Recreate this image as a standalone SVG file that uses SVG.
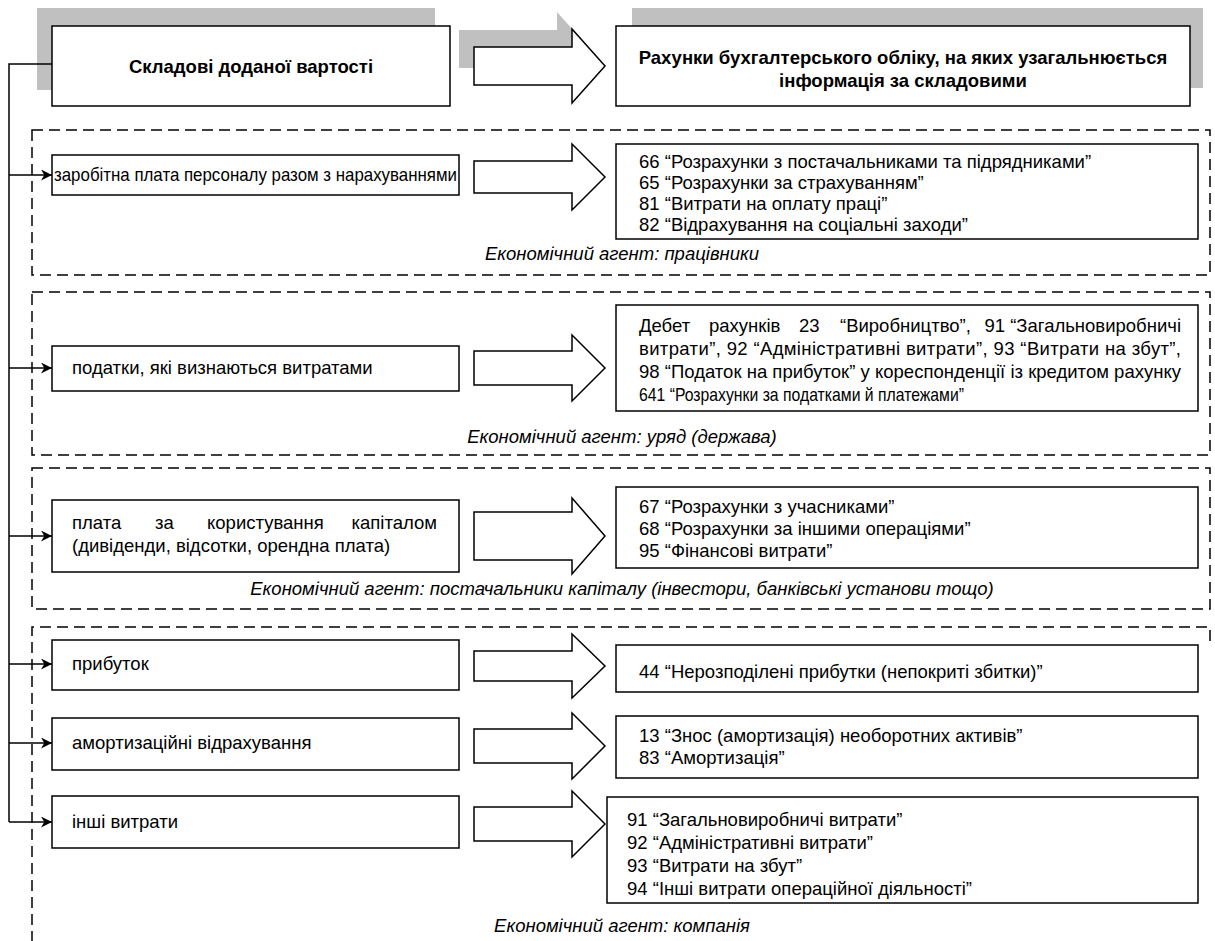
<svg xmlns="http://www.w3.org/2000/svg" width="1215" height="941" viewBox="0 0 1215 941">
<defs>
<style>
.box{fill:#fff;stroke:#000;stroke-width:1.5}
.shadow{fill:#c0c0c0;stroke:none}
.dash{fill:none;stroke:#000;stroke-width:1.5;stroke-dasharray:11,6}
.barrow{fill:#fff;stroke:#000;stroke-width:1.5;stroke-linejoin:miter}
.conn{fill:none;stroke:#000;stroke-width:1.5}
.t{font-family:"Liberation Sans",Arial,sans-serif;font-size:18.5px;fill:#000}
.b{font-family:"Liberation Sans",Arial,sans-serif;font-size:18.5px;font-weight:bold;fill:#000}
.i{font-family:"Liberation Sans",Arial,sans-serif;font-size:18.5px;font-style:italic;fill:#000}
</style>
<marker id="ah" viewBox="0 0 10 10" refX="10" refY="5" markerWidth="11" markerHeight="11" markerUnits="userSpaceOnUse" orient="auto">
<path d="M0,0 L10,5 L0,10 L3,5 Z" fill="#000"/>
</marker>
</defs>
<rect width="1215" height="941" fill="#fff"/>

<g id="groups">
<rect class="dash" x="32" y="130" width="1178" height="145"/>
<rect class="dash" x="32" y="292" width="1178" height="163"/>
<rect class="dash" x="32" y="468" width="1178" height="141"/>
<path class="dash" d="M1210,641 V627 H32 V941"/>
</g>

<g id="header-left">
<rect class="shadow" x="37" y="8" width="398" height="82"/>
<rect class="box" x="52" y="26" width="398" height="80"/>
<text class="b" x="251" y="73" text-anchor="middle">Складові доданої вартості</text>
</g>

<g id="header-arrow">
<path class="shadow" d="M459,30 H557 V12 L590,49 L557,86 V68 H459 Z"/>
<path class="barrow" d="M474,47 H572 V29 L605,66 L572,103 V85 H474 Z"/>
</g>

<g id="header-right">
<rect class="shadow" x="632" y="8" width="571" height="80"/>
<rect class="box" x="616" y="26" width="574" height="80"/>
<text class="b" x="903" y="64" text-anchor="middle">Рахунки бухгалтерського обліку, на яких узагальнюється</text>
<text class="b" x="903" y="87" text-anchor="middle">інформація за складовими</text>
</g>

<g id="connectors">
<path class="conn" d="M52,64 H9 V822"/>
<path class="conn" d="M9,175 H52" marker-end="url(#ah)"/>
<path class="conn" d="M9,368 H52" marker-end="url(#ah)"/>
<path class="conn" d="M9,536 H52" marker-end="url(#ah)"/>
<path class="conn" d="M9,664 H52" marker-end="url(#ah)"/>
<path class="conn" d="M9,743 H52" marker-end="url(#ah)"/>
<path class="conn" d="M9,822 H52" marker-end="url(#ah)"/>
</g>

<g id="row1">
<rect class="box" x="52" y="155" width="407" height="40"/>
<text class="t" x="54" y="181" textLength="403" lengthAdjust="spacingAndGlyphs">заробітна плата персоналу разом з нарахуваннями</text>
<path class="barrow" d="M474,161 H572 V144 L605,177 L572,210 V193 H474 Z"/>
<rect class="box" x="616" y="144" width="582" height="95"/>
<text class="t" x="639" y="168">66 “Розрахунки з постачальниками та підрядниками”</text>
<text class="t" x="639" y="189">65 “Розрахунки за страхуванням”</text>
<text class="t" x="639" y="210">81 “Витрати на оплату праці”</text>
<text class="t" x="639" y="231">82 “Відрахування на соціальні заходи”</text>
<text class="i" x="622" y="260" text-anchor="middle">Економічний агент: працівники</text>
</g>

<g id="row2">
<rect class="box" x="52" y="346" width="407" height="45"/>
<text class="t" x="72" y="374">податки, які визнаються витратами</text>
<path class="barrow" d="M474,351 H572 V335 L605,368 L572,401 V385 H474 Z"/>
<rect class="box" x="616" y="305" width="582" height="106"/>
<text class="t" y="332"><tspan x="639">Дебет</tspan><tspan x="709">рахунків</tspan><tspan x="799">23</tspan><tspan x="840">“Виробництво”,</tspan><tspan x="1181" text-anchor="end">91 “Загальновиробничі</tspan></text>
<text class="t" x="639" y="355" textLength="542" lengthAdjust="spacing">витрати”, 92 “Адміністративні витрати”, 93 “Витрати на збут”,</text>
<text class="t" x="639" y="378" textLength="542" lengthAdjust="spacing">98 “Податок на прибуток” у кореспонденції із кредитом рахунку</text>
<text class="t" x="639" y="401" textLength="325" lengthAdjust="spacingAndGlyphs">641 “Розрахунки за податками й платежами”</text>
<text class="i" x="622" y="443" text-anchor="middle">Економічний агент: уряд (держава)</text>
</g>

<g id="row3">
<rect class="box" x="52" y="500" width="407" height="72"/>
<text class="t" y="529"><tspan x="72">плата</tspan><tspan x="155">за</tspan><tspan x="207">користування</tspan><tspan x="437" text-anchor="end">капіталом</tspan></text>
<text class="t" x="72" y="552">(дивіденди, відсотки, орендна плата)</text>
<path class="barrow" d="M474,512 H572 V498 L605,536 L572,574 V560 H474 Z"/>
<rect class="box" x="616" y="487" width="582" height="81"/>
<text class="t" x="639" y="513">67 “Розрахунки з учасниками”</text>
<text class="t" x="639" y="535">68 “Розрахунки за іншими операціями”</text>
<text class="t" x="639" y="557">95 “Фінансові витрати”</text>
<text class="i" x="622" y="595" text-anchor="middle">Економічний агент: постачальники капіталу (інвестори, банківські установи тощо)</text>
</g>

<g id="row4">
<rect class="box" x="52" y="640" width="407" height="50"/>
<text class="t" x="72" y="670">прибуток</text>
<path class="barrow" d="M474,651 H572 V634 L605,666 L572,698 V681 H474 Z"/>
<rect class="box" x="616" y="645" width="582" height="47"/>
<text class="t" x="639" y="678">44 “Нерозподілені прибутки (непокриті збитки)”</text>
</g>

<g id="row5">
<rect class="box" x="52" y="718" width="407" height="52"/>
<text class="t" x="72" y="749">амортизаційні відрахування</text>
<path class="barrow" d="M474,729 H572 V713 L605,746 L572,779 V763 H474 Z"/>
<rect class="box" x="616" y="716" width="582" height="62"/>
<text class="t" x="639" y="742">13 “Знос (амортизація) необоротних активів”</text>
<text class="t" x="639" y="764">83 “Амортизація”</text>
</g>

<g id="row6">
<rect class="box" x="52" y="796" width="407" height="52"/>
<text class="t" x="72" y="828">інші витрати</text>
<path class="barrow" d="M474,807 H572 V791 L605,824 L572,857 V841 H474 Z"/>
<rect class="box" x="607" y="797" width="591" height="106"/>
<text class="t" x="627" y="826">91 “Загальновиробничі витрати”</text>
<text class="t" x="627" y="849">92 “Адміністративні витрати”</text>
<text class="t" x="627" y="872">93 “Витрати на збут”</text>
<text class="t" x="627" y="895">94 “Інші витрати операційної діяльності”</text>
<text class="i" x="622" y="932" text-anchor="middle">Економічний агент: компанія</text>
</g>
</svg>
